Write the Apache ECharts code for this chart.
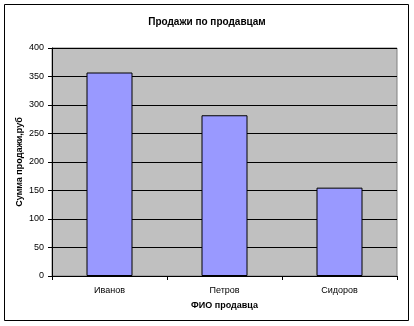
<!DOCTYPE html>
<html><head><meta charset="utf-8">
<script src="https://cdn.jsdelivr.net/npm/echarts@6/dist/echarts.min.js"></script>
<style>html,body{margin:0;padding:0;background:#fff}#c{width:414px;height:326px}</style>
</head><body><div id="c"></div>
<script>
const categories = ['Иванов', 'Петров', 'Сидоров'];
const sales = [357, 282, 155];
const yTicks = [0, 50, 100, 150, 200, 250, 300, 350, 400];
const titleText = 'Продажи по продавцам';
const xName = 'ФИО продавца';
const yName = 'Сумма продажи,руб';

const font = 'Liberation Sans, Arial, sans-serif';
const chart = echarts.init(document.getElementById('c'), null, {renderer: 'canvas'});
chart.setOption({
  backgroundColor: '#fff',
  animation: false,
  textStyle: {fontFamily: font, color: '#000'},
  graphic: [{type: 'rect', shape: {x: 4.5, y: 4.5, width: 404, height: 316}, style: {fill: 'none', stroke: '#000', lineWidth: 1}, z: -1}],
  title: {text: titleText, left: 'center', top: 12, textStyle: {fontFamily: font, fontSize: 10, fontWeight: 'bold', color: '#000'}},
  grid: {left: 52, right: 17, top: 48, bottom: 50, show: true, backgroundColor: '#C0C0C0', borderColor: '#808080', borderWidth: 1},
  xAxis: {
    type: 'category', data: categories,
    name: xName, nameLocation: 'middle', nameGap: 25, nameMoveOverlap: false,
    nameTextStyle: {fontFamily: font, fontSize: 9, fontWeight: 'bold', color: '#000'},
    axisLine: {show: true, lineStyle: {color: '#000', width: 1}},
    axisTick: {show: true, length: 4, lineStyle: {color: '#000'}},
    axisLabel: {fontFamily: font, fontSize: 9, color: '#000', margin: 10},
    splitLine: {show: false}
  },
  yAxis: {
    type: 'value', min: yTicks[0], max: yTicks[yTicks.length - 1], interval: yTicks[1] - yTicks[0],
    name: yName, nameLocation: 'middle', nameGap: 28, nameRotate: 90, nameMoveOverlap: false,
    nameTextStyle: {fontFamily: font, fontSize: 9, fontWeight: 'bold', color: '#000'},
    axisLine: {show: true, lineStyle: {color: '#000', width: 1}},
    axisTick: {show: true, length: 4, lineStyle: {color: '#000'}},
    axisLabel: {fontFamily: font, fontSize: 9, color: '#000', margin: 8},
    splitLine: {show: true, lineStyle: {color: '#000', width: 1}}
  },
  series: [{
    type: 'bar', data: sales, barCategoryGap: '60%',
    itemStyle: {color: '#9999FF', borderColor: '#000', borderWidth: 1}
  }]
});
</script></body></html>
